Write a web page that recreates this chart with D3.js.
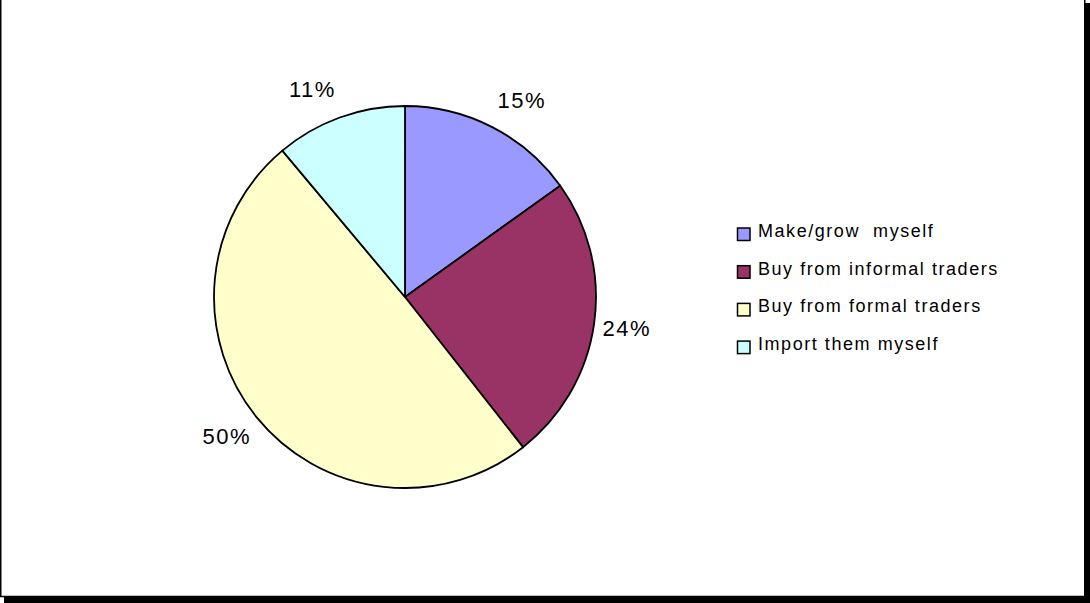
<!DOCTYPE html>
<html>
<head>
<meta charset="utf-8">
<script src="https://cdn.jsdelivr.net/npm/d3@7"></script>
<style>
  body { margin: 0; background: #fff; }
  svg { display: block; font-family: "Liberation Sans", Arial, sans-serif; }
</style>
</head>
<body>
<div class="chart"></div>
<script>
var categories = ['Make/grow  myself', 'Buy from informal traders', 'Buy from formal traders', 'Import them myself'];
var shares = [15.1, 24.3, 49.5, 11.1];
var colours = ['#9999ff', '#993366', '#ffffcc', '#ccffff'];

var width = 1090,
    height = 603;

var cx = 405, cy = 297,
    radius = 191;

var svg = d3.select('.chart').append('svg')
	.attr('width', width)
	.attr('height', height);

// frame with drop shadow
svg.append('rect')
	.attr('x', 4).attr('y', 3)
	.attr('width', width - 4).attr('height', height - 3)
	.attr('fill', '#000');
svg.append('rect')
	.attr('x', 0.75).attr('y', -2)
	.attr('width', 1084).attr('height', 598.5)
	.attr('fill', '#fff')
	.attr('stroke', '#000')
	.attr('stroke-width', 1.5);

var data = categories.map(function(c, i) { return { name: c, value: shares[i], colour: colours[i] }; });

var pie = d3.pie().sort(null).value(function(d) { return d.value; });
var arc = d3.arc().innerRadius(0).outerRadius(radius);

var g = svg.append('g').attr('transform', 'translate(' + cx + ',' + cy + ')');

var slices = pie(data);

g.selectAll('path').data(slices).enter().append('path')
	.attr('d', arc)
	.attr('fill', function(d) { return d.data.colour; })
	.attr('stroke', '#000')
	.attr('stroke-width', 1.8)
	.attr('stroke-linejoin', 'round');

// outside-end labels: pushed sideways away from the pie like Excel does
var labelPos = function(d) {
	var a = (d.startAngle + d.endAngle) / 2,
	    s = Math.sin(a), c = Math.cos(a);
	return [197 * s + 26 * (s < 0 ? -1 : 1), -221 * c];
};

g.selectAll('text.pct').data(slices).enter().append('text')
	.attr('class', 'pct')
	.attr('transform', function(d) { return 'translate(' + labelPos(d) + ')'; })
	.attr('text-anchor', 'middle')
	.attr('dx', 0.75)
	.attr('dy', '0.36em')
	.attr('font-size', 22)
	.attr('letter-spacing', 1.5)
	.attr('fill', '#000')
	.text(function(d) { return Math.round(d.data.value) + '%'; });

// legend
var legend = svg.append('g').attr('transform', 'translate(737,228)');
var row = legend.selectAll('g').data(data).enter().append('g')
	.attr('transform', function(d, i) { return 'translate(0,' + (i * 37.7) + ')'; });

row.append('rect')
	.attr('x', 0.5).attr('y', 0)
	.attr('width', 12.5).attr('height', 12.5)
	.attr('fill', function(d) { return d.colour; })
	.attr('stroke', '#000')
	.attr('stroke-width', 1.5);

row.append('text')
	.attr('x', 21)
	.attr('y', 9)
	.attr('font-size', 18)
	.attr('letter-spacing', 1.55)
	.attr('fill', '#000')
	.style('white-space', 'pre')
	.text(function(d) { return d.name; });
</script>
</body>
</html>
